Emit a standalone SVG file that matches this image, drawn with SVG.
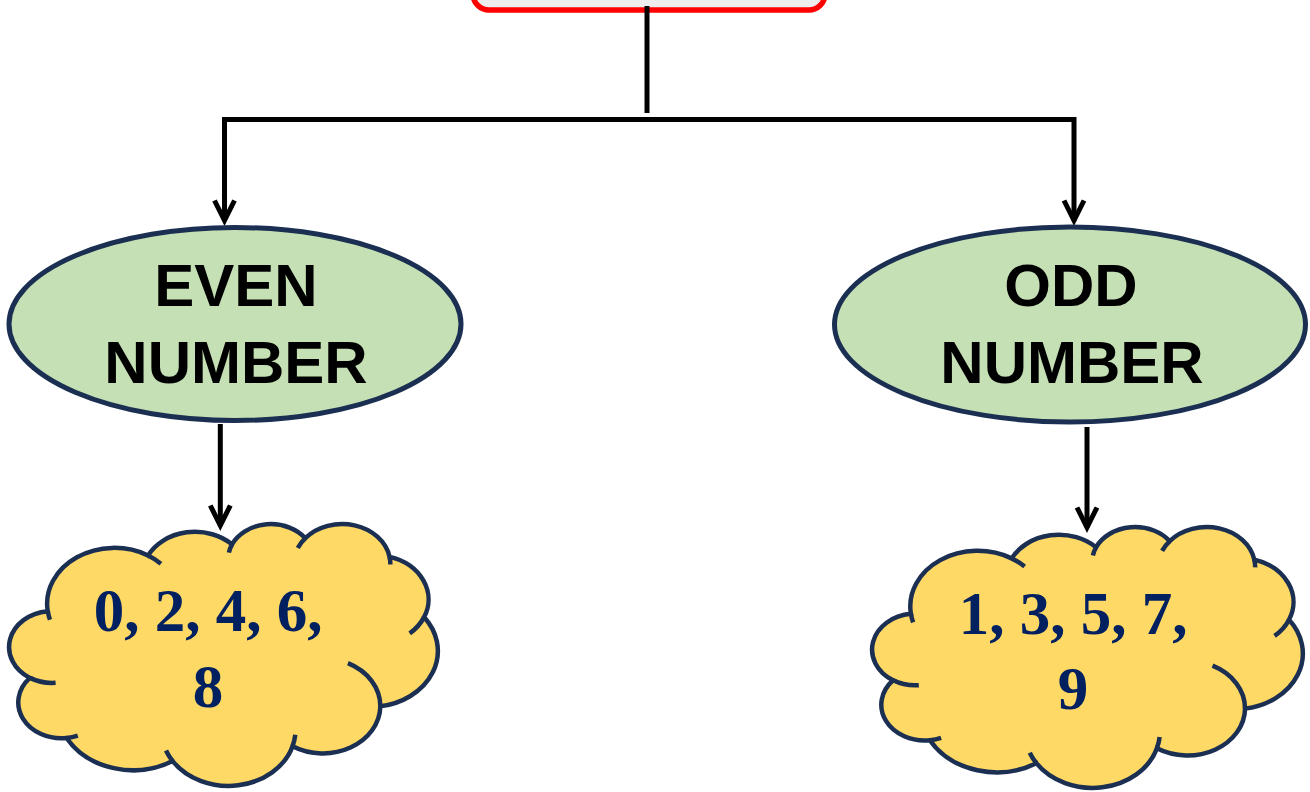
<svg xmlns="http://www.w3.org/2000/svg" width="1310" height="792" viewBox="0 0 1310 792">
  <style>
    .conn { fill: none; stroke: #000000; stroke-width: 5; stroke-linejoin: miter; }
    .oval { fill: #C5E0B4; stroke: #1B2F52; stroke-width: 5; }
    .cloud { fill: #FFD966; stroke: #1B2F52; stroke-width: 4.5; }
    .cloudIn { fill: none; stroke: #1B2F52; stroke-width: 4.5; }
    .lbl { font-family: "Liberation Sans", Arial, sans-serif; font-weight: bold; font-size: 60px; fill: #000000; text-anchor: middle; }
    .num { font-family: "Liberation Serif", "Times New Roman", serif; font-weight: bold; font-size: 61px; fill: #002060; text-anchor: middle; }
  </style>
  <defs>
    <marker id="arr" markerUnits="userSpaceOnUse" orient="auto" markerWidth="40" markerHeight="40" refX="0" refY="0" viewBox="-30 -20 40 40" overflow="visible">
      <path d="M-20,-10 L0,0 L-20,10" fill="none" stroke="#000000" stroke-width="5" stroke-linejoin="miter"/>
    </marker>
    <path id="cloudOut" vector-effect="non-scaling-stroke" d="M3900,14370 A6753,9190 0 0 1 14000,5192 A5333,7267 0 0 1 22456,3350 A4365,5945 0 0 1 29839,2331 A4857,6595 0 0 1 38324,5426 A5333,7273 0 0 1 41798,15354 A6775,9220 0 0 1 37392,30063 A5785,7867 0 0 1 28553,36640 A6752,9215 0 0 1 16478,39090 A7720,10543 0 0 1 5802,35296 A4360,5918 0 0 1 2111,25374 A4345,5945 0 0 1 3900,14370 Z"/>
    <path id="cloudInr" vector-effect="non-scaling-stroke" d="M4693,26177 A4345,5945 0 0 1 2111,25374 M6928,34899 A4360,5918 0 0 1 5802,35296 M16478,39090 A6752,9215 0 0 1 15810,37351 M28827,34751 A6752,9215 0 0 1 28553,36640 M34129,22954 A5785,7867 0 0 1 37392,30063 M41798,15354 A5333,7273 0 0 1 40350,18030 M38324,5426 A4857,6595 0 0 1 38400,6689 M29078,3952 A4857,6595 0 0 1 29839,2331 M22141,4720 A4365,5945 0 0 1 22456,3350 M14000,5192 A6753,9190 0 0 1 15299,6539 M4127,15789 A6753,9190 0 0 1 3900,14370"/>
  </defs>

  <g id="root">
    <rect x="473" y="-60" width="352" height="70" rx="16" fill="#EDEDED" stroke="#FF0000" stroke-width="5.5"/>
  </g>

  <g id="connectors">
    <line class="conn" x1="647" y1="6" x2="647" y2="113" stroke-width="5.5"/>
    <path class="conn" d="M647,119.5 H224.5 V220.5" marker-end="url(#arr)"/>
    <path class="conn" d="M647,119.5 H1074 V220.5" marker-end="url(#arr)"/>
    <path class="conn" d="M220.3,424 V525.5" marker-end="url(#arr)"/>
    <path class="conn" d="M1087,427 V527.5" marker-end="url(#arr)"/>
  </g>

  <g id="even">
    <ellipse class="oval" cx="235" cy="324" rx="226" ry="96.5"/>
    <text class="lbl" x="236" y="306">EVEN</text>
    <text class="lbl" x="236" y="383">NUMBER</text>
  </g>

  <g id="odd">
    <ellipse class="oval" cx="1070" cy="324.5" rx="235.5" ry="97.5"/>
    <text class="lbl" x="1071" y="306">ODD</text>
    <text class="lbl" x="1072" y="383">NUMBER</text>
  </g>

  <g id="even-values">
    <g transform="translate(9,524) scale(0.0099306,0.0060648)">
      <use href="#cloudOut" class="cloud"/>
      <use href="#cloudInr" class="cloudIn"/>
    </g>
    <text class="num" x="208" y="630.5">0, 2, 4, 6,</text>
    <text class="num" x="208" y="706.5">8</text>
  </g>

  <g id="odd-values">
    <g transform="translate(872,527) scale(0.0099769,0.0060417)">
      <use href="#cloudOut" class="cloud"/>
      <use href="#cloudInr" class="cloudIn"/>
    </g>
    <text class="num" x="1073" y="633.5">1, 3, 5, 7,</text>
    <text class="num" x="1073" y="708.5">9</text>
  </g>
</svg>
